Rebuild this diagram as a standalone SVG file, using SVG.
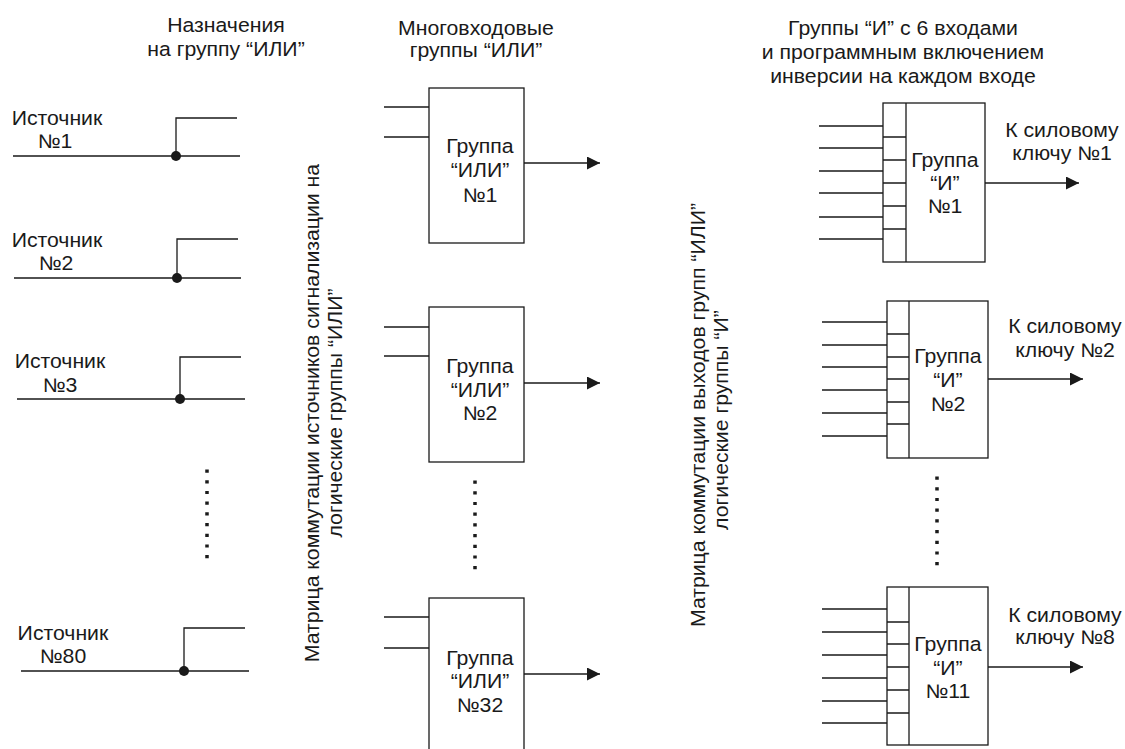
<svg xmlns="http://www.w3.org/2000/svg" width="1125" height="749" viewBox="0 0 1125 749">
<style>
text{font-family:"Liberation Sans",Arial,sans-serif;font-size:19.5px;fill:#1a1a1a;transform-box:fill-box;transform-origin:center;transform:scaleX(1.09)}
.m{text-anchor:middle}
.ln{stroke:#1a1a1a;stroke-width:1.3;fill:none}
.box{stroke:#1a1a1a;stroke-width:1.3;fill:#fff}
.dots{stroke:#1a1a1a;stroke-width:3.5;stroke-dasharray:3.2 7.5}
.dot{fill:#1a1a1a}
</style>
<defs>
<marker id="arr" markerUnits="userSpaceOnUse" markerWidth="14" markerHeight="14" refX="13" refY="6.5" orient="auto">
<path d="M0,0 L13,6.5 L0,13 z" fill="#1a1a1a"/>
</marker>
</defs>
<rect width="1125" height="749" fill="#fff"/>

<g id="titles">
<text class="m" x="226" y="32">Назначения</text>
<text class="m" x="226" y="56">на группу “ИЛИ”</text>
<text class="m" x="476" y="35">Многовходовые</text>
<text class="m" x="476" y="57">группы “ИЛИ”</text>
<text class="m" x="903" y="35">Группы “И” с 6 входами</text>
<text class="m" x="903" y="59">и программным включением</text>
<text class="m" x="903" y="83">инверсии на каждом входе</text>
</g>

<g id="matrix1">
<g transform="translate(319,413) rotate(-90)"><text class="m" x="0" y="0">Матрица коммутации источников сигнализации на</text></g>
<g transform="translate(342,413) rotate(-90)"><text class="m" x="0" y="0">логические группы “ИЛИ”</text></g>
</g>
<g id="matrix2">
<g transform="translate(705,415) rotate(-90)"><text class="m" x="0" y="0">Матрица коммутации выходов групп “ИЛИ”</text></g>
<g transform="translate(728,420) rotate(-90)"><text class="m" x="0" y="0">логические группы “И”</text></g>
</g>

<g id="source1">
<text class="m" x="57" y="125">Источник</text>
<text class="m" x="55" y="148">№1</text>
</g>
<g id="source2">
<text class="m" x="57" y="247">Источник</text>
<text class="m" x="56" y="270">№2</text>
</g>
<g id="source3">
<text class="m" x="60" y="368">Источник</text>
<text class="m" x="60" y="392">№3</text>
</g>
<g id="source80">
<text class="m" x="63" y="640">Источник</text>
<text class="m" x="63" y="663">№80</text>
</g>

<g id="or1">
<rect class="box" x="429" y="88" width="95" height="155"/>
<text class="m" x="480" y="153">Группа</text>
<text class="m" x="480" y="177">“ИЛИ”</text>
<text class="m" x="480" y="202">№1</text>
</g>
<g id="or2">
<rect class="box" x="429" y="307" width="95" height="155"/>
<text class="m" x="480" y="373">Группа</text>
<text class="m" x="480" y="397">“ИЛИ”</text>
<text class="m" x="480" y="420">№2</text>
</g>
<g id="or32">
<rect class="box" x="429" y="598" width="95" height="160"/>
<text class="m" x="480" y="665">Группа</text>
<text class="m" x="480" y="688">“ИЛИ”</text>
<text class="m" x="480" y="712">№32</text>
</g>

<g id="and1">
<rect class="box" x="883" y="103" width="102" height="159"/>
<path class="ln" d="M906,103V262M883,137H906M883,160H906M883,183H906M883,206H906M883,229H906"/>
<text class="m" x="945" y="167">Группа</text>
<text class="m" x="945" y="190">“И”</text>
<text class="m" x="945" y="213">№1</text>
<text class="m" x="1062" y="137">К силовому</text>
<text class="m" x="1062" y="160">ключу №1</text>
</g>
<g id="and2">
<rect class="box" x="887" y="301" width="101" height="157"/>
<path class="ln" d="M909,301V458M887,334H909M887,357H909M887,379H909M887,402H909M887,424H909"/>
<text class="m" x="948" y="363">Группа</text>
<text class="m" x="948" y="387">“И”</text>
<text class="m" x="948" y="411">№2</text>
<text class="m" x="1065" y="333">К силовому</text>
<text class="m" x="1065" y="357">ключу №2</text>
</g>
<g id="and11">
<rect class="box" x="887" y="587" width="101" height="158"/>
<path class="ln" d="M909,587V745M887,622H909M887,644H909M887,667H909M887,690H909M887,713H909"/>
<text class="m" x="948" y="651">Группа</text>
<text class="m" x="948" y="675">“И”</text>
<text class="m" x="948" y="698">№11</text>
<text class="m" x="1065" y="622">К силовому</text>
<text class="m" x="1065" y="644">ключу №8</text>
</g>

<g id="ellipses">
<line class="dots" x1="207" y1="469.5" x2="207" y2="560"/>
<line class="dots" x1="475" y1="480.5" x2="475" y2="570"/>
<line class="dots" x1="937" y1="476.5" x2="937" y2="566"/>
</g>

<g id="connectors">
<path class="ln" d="M13,156H240M176,156V118H237"/>
<circle class="dot" cx="176" cy="156" r="5"/>
<path class="ln" d="M14,278H241M177,278V239H238"/>
<circle class="dot" cx="177" cy="278" r="5"/>
<path class="ln" d="M17,399H245M180,399V357H241"/>
<circle class="dot" cx="180" cy="399" r="5"/>
<path class="ln" d="M21,671H249M184,671V628H245"/>
<circle class="dot" cx="184" cy="671" r="5"/>

<path class="ln" d="M384,107H429M384,137H429M384,327H429M384,356H429M384,617H429M384,648H429"/>
<line class="ln" x1="524" y1="163" x2="600" y2="163" marker-end="url(#arr)"/>
<line class="ln" x1="524" y1="383" x2="600" y2="383" marker-end="url(#arr)"/>
<line class="ln" x1="524" y1="674" x2="600" y2="674" marker-end="url(#arr)"/>

<path class="ln" d="M819,126H883M819,148H883M819,171H883M819,193H883M819,217H883M819,239H883"/>
<path class="ln" d="M822,322H887M822,345H887M822,367H887M822,390H887M822,413H887M822,436H887"/>
<path class="ln" d="M822,609H887M822,632H887M822,655H887M822,678H887M822,701H887M822,723H887"/>
<line class="ln" x1="985" y1="183" x2="1079" y2="183" marker-end="url(#arr)"/>
<line class="ln" x1="988" y1="379" x2="1083" y2="379" marker-end="url(#arr)"/>
<line class="ln" x1="988" y1="667" x2="1083" y2="667" marker-end="url(#arr)"/>
</g>
</svg>
